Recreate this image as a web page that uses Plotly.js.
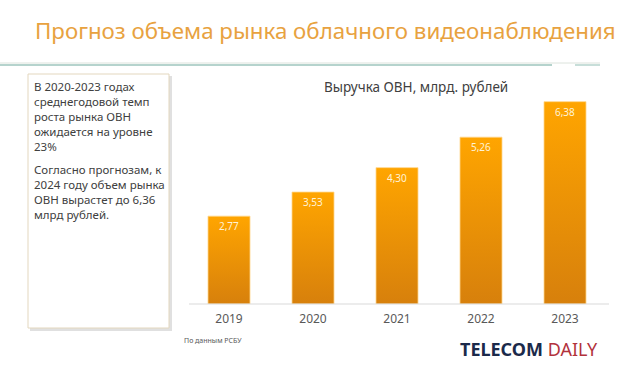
<!DOCTYPE html>
<html><head><meta charset="utf-8">
<script src="https://cdn.plot.ly/plotly-3.0.1.min.js"></script>
<style>html,body{margin:0;padding:0;background:#fff;}#chart{width:624px;height:367px;}</style>
</head><body><div id="chart"></div>
<script>
const years = ['2019','2020','2021','2022','2023'];
const revenue = [2.77, 3.53, 4.30, 5.26, 6.38];
const revenueLabels = ['2,77','3,53','4,30','5,26','6,38'];

const pageTitle = 'Прогноз объема рынка облачного видеонаблюдения';
const chartTitle = 'Выручка ОВН, млрд. рублей';
const para1 = 'В 2020-2023 годах<br>среднегодовой темп<br>роста рынка ОВН<br>ожидается на уровне<br>23%';
const para2 = 'Согласно прогнозам, к<br>2024 году объем рынка<br>ОВН вырастет до 6,36<br>млрд рублей.';
const source = 'По данным РСБУ';

const W = 624, H = 367;
const L = 187, R = 607, T = 82, B = 304;
const fx = p => (p - L) / (R - L);
const fy = p => (B - p) / (B - T);
const FONT = '"Noto Sans", "Open Sans", sans-serif';

const trace = {
  type: 'bar', x: years, y: revenue, text: revenueLabels,
  textposition: 'inside', insidetextanchor: 'end', textangle: 0,
  textfont: {family: FONT, size: 10, color: '#FFF3D6'},
  marker: {color: '#F29A0C', line: {width: 0.8, color: '#FFD68A'}},
  hoverinfo: 'none'
};

const layout = {
  width: W, height: H,
  margin: {l: L, r: W - R, t: T, b: H - B, pad: 0},
  paper_bgcolor: '#ffffff', plot_bgcolor: 'rgba(0,0,0,0)',
  showlegend: false, bargap: 0.5,
  font: {family: FONT},
  xaxis: {type: 'category', showline: false, showgrid: false, zeroline: false,
          ticks: '', tickfont: {family: FONT, size: 12, color: '#595959'}, ticklabelstandoff: 6},
  yaxis: {range: [0, 7], visible: false, showgrid: false, zeroline: false, showline: false},
  shapes: [
    {type: 'line', xref: 'paper', yref: 'paper', x0: fx(0), x1: fx(600), y0: fy(63), y1: fy(63), line: {color: '#DCE3DC', width: 1}},
    {type: 'line', xref: 'paper', yref: 'paper', x0: fx(0), x1: fx(552), y0: fy(65), y1: fy(65), line: {color: '#9CC5BC', width: 1.5}},
    {type: 'line', xref: 'paper', yref: 'paper', x0: fx(575), x1: fx(600), y0: fy(65), y1: fy(65), line: {color: '#B5D3CC', width: 1.5}},
    {type: 'line', xref: 'paper', yref: 'paper', x0: fx(189), x1: fx(609), y0: 0, y1: 0, line: {color: '#D9D9D9', width: 1}},
    {type: 'rect', xref: 'paper', yref: 'paper', x0: fx(30), x1: fx(172), y0: fy(76), y1: fy(331), fillcolor: 'rgba(0,0,0,0.12)', line: {width: 0}, layer: 'below'},
    {type: 'rect', xref: 'paper', yref: 'paper', x0: fx(28), x1: fx(169), y0: fy(74), y1: fy(328), fillcolor: '#ffffff', line: {color: '#E3D7BE', width: 1}, layer: 'below'}
  ],
  annotations: [
    {text: pageTitle, xref: 'paper', yref: 'paper', x: fx(33), y: fy(31), xanchor: 'left', yanchor: 'middle', showarrow: false,
     font: {family: FONT, size: 22.3, color: '#E8A23F'}},
    {text: chartTitle, xref: 'paper', yref: 'paper', x: fx(416), y: fy(87), xanchor: 'center', yanchor: 'middle', showarrow: false,
     font: {family: FONT, size: 13.5, color: '#404040'}},
    {text: para1, xref: 'paper', yref: 'paper', x: fx(32), y: fy(77), xanchor: 'left', yanchor: 'top', align: 'left', showarrow: false,
     font: {family: FONT, size: 11.5, color: '#404040'}},
    {text: para2, xref: 'paper', yref: 'paper', x: fx(32), y: fy(160), xanchor: 'left', yanchor: 'top', align: 'left', showarrow: false,
     font: {family: FONT, size: 11.5, color: '#404040'}},
    {text: source, xref: 'paper', yref: 'paper', x: fx(182), y: fy(340), xanchor: 'left', yanchor: 'middle', showarrow: false,
     font: {family: FONT, size: 7, color: '#595959'}},
    {text: "<b><span style='color:#1B2A4A'>TELECOM</span></b> <span style='color:#B2323C'>DAILY</span>", xref: 'paper', yref: 'paper',
     x: fx(600), y: fy(349), xanchor: 'right', yanchor: 'middle', showarrow: false,
     font: {family: FONT, size: 18}}
  ]
};

Plotly.newPlot('chart', [trace], layout, {displayModeBar: false, staticPlot: true}).then(gd => {
  const svg = gd.querySelector('svg.main-svg');
  const ns = 'http://www.w3.org/2000/svg';
  let defs = svg.querySelector('defs');
  if (!defs) { defs = document.createElementNS(ns, 'defs'); svg.insertBefore(defs, svg.firstChild); }
  const g = document.createElementNS(ns, 'linearGradient');
  g.setAttribute('id', 'barGrad'); g.setAttribute('x1', '0'); g.setAttribute('y1', '0'); g.setAttribute('x2', '0'); g.setAttribute('y2', '1');
  [['0', '#FFA500'], ['1', '#D7800C']].forEach(([o, c]) => {
    const s = document.createElementNS(ns, 'stop'); s.setAttribute('offset', o); s.setAttribute('stop-color', c); g.appendChild(s);
  });
  defs.appendChild(g);
  gd.querySelectorAll('.bars .point path').forEach(p => { p.style.fill = 'url(#barGrad)'; });
});
</script></body></html>
